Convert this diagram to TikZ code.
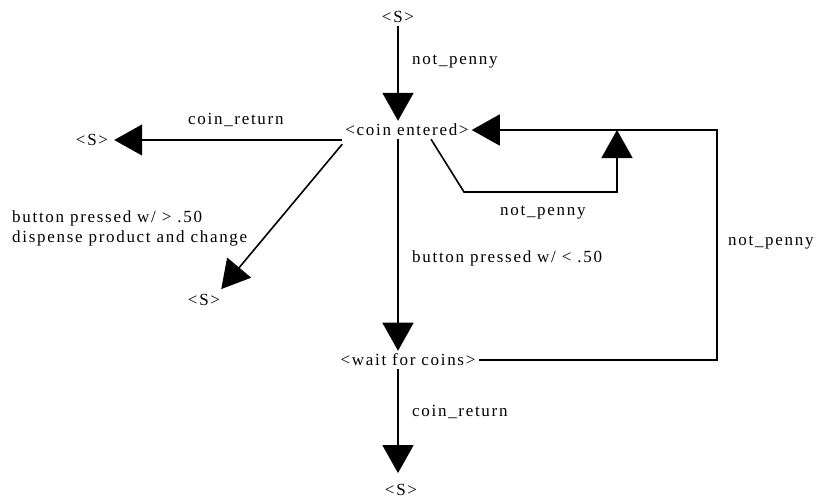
\documentclass[tikz,border=0pt]{standalone}
\usepackage{fontspec}
\setmainfont[LetterSpace=10]{Liberation Serif}
\usetikzlibrary{arrows.meta}

\begin{document}
\begin{tikzpicture}[x=1pt, y=-1pt, font=\fontsize{17}{20}\selectfont,
	every node/.style={inner sep=3pt},
	flow/.style={line width=1.6pt, -{Triangle[length=28pt,width=31pt]}},
	lbl/.style={anchor=west}]
	\useasboundingbox (0,0) rectangle (817,499);

	% states
	\node (s0) at (398,17) {<S>};
	\node (ce) at (407,130) {<coin entered>};
	\node (sl) at (92,140) {<S>};
	\node (sb) at (204,300) {<S>};
	\node (wait) at (408,360) {<wait for coins>};
	\node (se) at (401,490) {<S>};
	\coordinate (rc) at (717,358);
	\coordinate (lp) at (464,192);
	\coordinate (join) at (617,0);

	% transitions
	\draw[flow] (s0) -- (s0 |- ce.north);
	\draw[flow] (sl.east -| ce.west) -- ([xshift=3pt]sl.east);
	\draw[flow] ([yshift=-5pt]ce.south west) -- ([shift={(-2pt,2pt)}]sb.north east);
	\draw[flow] (s0 |- ce.south) -- (s0 |- wait.north);
	\draw[flow] (s0 |- wait.south) -- ([yshift=8pt]s0 |- se.north);
	\draw[flow] (wait.east) -- (wait.east -| rc) -- (rc |- ce.east) -- (ce.east);
	\draw[flow] ([xshift=24pt]ce.south) -- (lp) -- (lp -| join) -- (join |- ce.east);

	% labels
	\node[lbl] (l1) at (409,62) {not\_penny};
	\node[lbl] (l2) at (185,120) {coin\_return};
	\node[lbl, align=left] (l3) at (9,228) {button pressed w/ > .50\\dispense product and change};
	\node[lbl] (l4) at (409,258) {button pressed w/ < .50};
	\node[lbl] (l5) at (497,213) {not\_penny};
	\node[lbl] (l6) at (725,243) {not\_penny};
	\node[lbl] (l7) at (409,412) {coin\_return};
\end{tikzpicture}
\end{document}
